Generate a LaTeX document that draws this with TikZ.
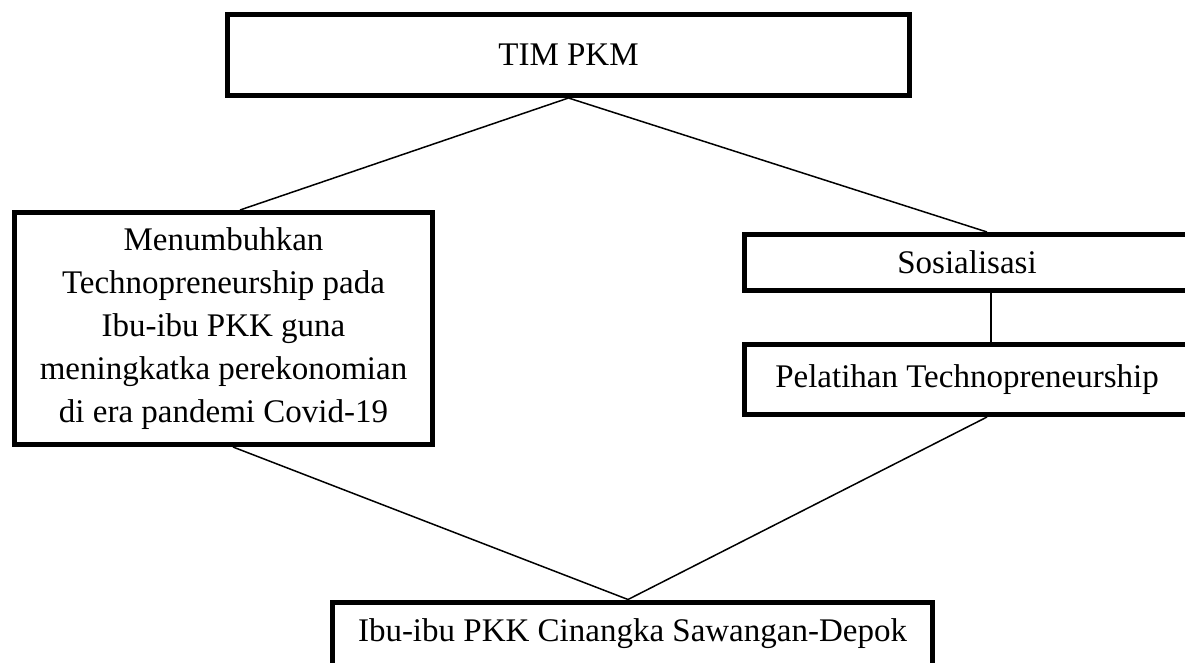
\documentclass[tikz,border=0pt]{standalone}
\usepackage{fontspec}
\setmainfont{Liberation Serif}
\tikzset{
  kotak/.style={draw, line width=5pt, inner sep=0pt, align=center,
    font=\fontsize{33}{43}\selectfont},
  garis/.style={line width=1.5pt}
}

\begin{document}
\begin{tikzpicture}[x=1pt,y=-1pt]
\useasboundingbox (0,0) rectangle (1185,663);
\clip (0,0) rectangle (1185,663);

\node[kotak, minimum width=682pt, minimum height=81pt] (tim) at (568.5,55) {TIM PKM};
\node[kotak, minimum width=418pt, minimum height=232pt] (tujuan) at (223.5,328.5)
  {Menumbuhkan\\ Technopreneurship pada\\ Ibu-ibu PKK guna\\ meningkatka perekonomian\\ di era pandemi Covid-19};
\node[kotak, minimum width=445pt, minimum height=56pt] (sosial) at (967,262.5) {Sosialisasi};
\node[kotak, minimum width=445pt, minimum height=70pt] (latih) at (967,379.5) {Pelatihan Technopreneurship};
\node[kotak, minimum width=600pt, minimum height=64pt] (ibu) at (632.5,634) {Ibu-ibu PKK Cinangka Sawangan-Depok};

% garis penghubung
\draw[garis] (tim.south) -- ([xshift=16.5pt]tujuan.north);
\draw[garis] (tim.south) -- ([xshift=20pt]sosial.north);
\draw[garis] ([xshift=24pt]sosial.south) -- ([xshift=24pt]latih.north);
\draw[garis] ([xshift=9.5pt]tujuan.south) -- ([xshift=-4.5pt]ibu.north);
\draw[garis] ([xshift=20pt]latih.south) -- ([xshift=-4.5pt]ibu.north);
\end{tikzpicture}
\end{document}
